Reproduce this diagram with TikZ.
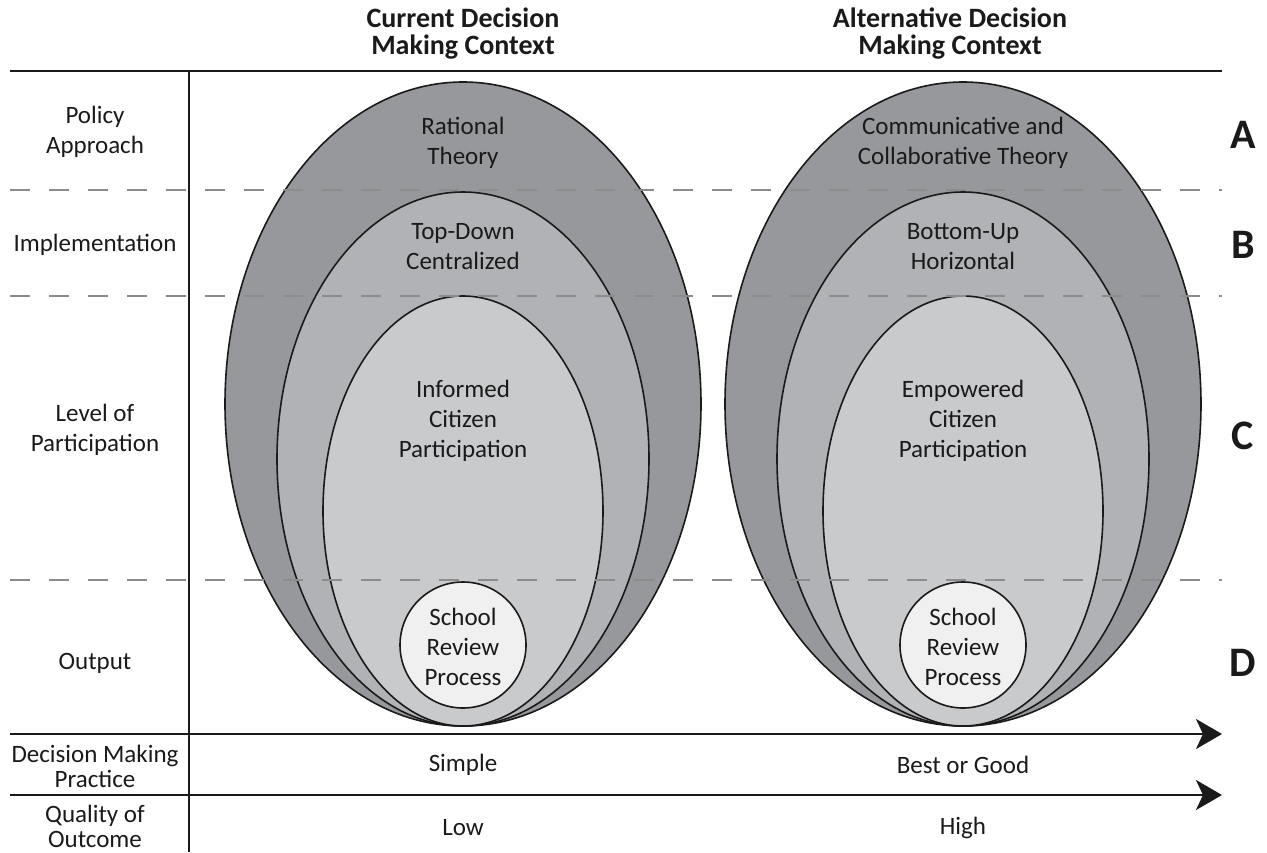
\documentclass[tikz,border=0pt]{standalone}
\usepackage{fontspec}
\setmainfont{Carlito}
\usetikzlibrary{arrows.meta}

\definecolor{ringA}{HTML}{97989B}
\definecolor{ringB}{HTML}{B1B2B5}
\definecolor{ringC}{HTML}{C9CACC}
\definecolor{ringD}{HTML}{F0F0F1}
\definecolor{dashgray}{HTML}{8C8C8C}
\definecolor{ink}{HTML}{1A1A1A}

\tikzset{
  rule/.style={line width=2.6pt, draw=ink},
  rowsep/.style={line width=2pt, draw=dashgray, dash pattern=on 20pt off 19pt},
  arrowline/.style={line width=2.6pt, draw=ink, -{Stealth[length=26pt, width=30pt, inset=7pt]}},
  ring/.style={line width=1.6pt, draw=ink},
  txt/.style={align=center, text=ink, font=\fontsize{25}{30}\selectfont, inner sep=0pt},
  tight/.style={font=\fontsize{25}{25}\selectfont},
  head/.style={align=center, text=ink, font=\fontsize{28}{27}\selectfont\bfseries, inner sep=0pt},
  letter/.style={text=ink, font=\fontsize{42}{42}\selectfont\bfseries, inner sep=0pt},
}

\begin{document}
\begin{tikzpicture}[x=1pt, y=-1pt]
\useasboundingbox (0,0) rectangle (1267,852);

% nested ellipses, current context
\fill[ringA] (463,404) ellipse [x radius=238, y radius=322];
\draw[ring] (463,404) ellipse [x radius=238, y radius=322];
\fill[ringB] (463,459) ellipse [x radius=186, y radius=267];
\draw[ring] (463,459) ellipse [x radius=186, y radius=267];
\fill[ringC] (463,511) ellipse [x radius=140, y radius=215];
\draw[ring] (463,511) ellipse [x radius=140, y radius=215];
\fill[ringD] (463,645) circle [radius=63];
\draw[ring] (463,645) circle [radius=63];

% nested ellipses, alternative context
\fill[ringA] (963,404) ellipse [x radius=238, y radius=322];
\draw[ring] (963,404) ellipse [x radius=238, y radius=322];
\fill[ringB] (963,459) ellipse [x radius=186, y radius=267];
\draw[ring] (963,459) ellipse [x radius=186, y radius=267];
\fill[ringC] (963,511) ellipse [x radius=140, y radius=215];
\draw[ring] (963,511) ellipse [x radius=140, y radius=215];
\fill[ringD] (963,645) circle [radius=63];
\draw[ring] (963,645) circle [radius=63];

% row separators
\coordinate (dA1) at (10,190);  \coordinate (dA2) at (1222,190);
\coordinate (dB1) at (10,296);  \coordinate (dB2) at (1222,296);
\coordinate (dC1) at (10,580);  \coordinate (dC2) at (1222,580);
\draw[rowsep] (dA1) -- (dA2);
\draw[rowsep] (dB1) -- (dB2);
\draw[rowsep] (dC1) -- (dC2);

% frame
\coordinate (top1) at (10,71);   \coordinate (top2) at (1222,71);
\coordinate (vtop) at (189,71);  \coordinate (vbot) at (189,852);
\coordinate (ar1s) at (10,734);  \coordinate (ar1e) at (1222,734);
\coordinate (ar2s) at (10,795);  \coordinate (ar2e) at (1222,795);
\draw[rule] (top1) -- (top2);
\draw[rule] (vtop) -- (vbot);
\draw[arrowline] (ar1s) -- (ar1e);
\draw[arrowline] (ar2s) -- (ar2e);

% column headings
\node[head] (hcur) at (463,34) {Current Decision\\Making Context};
\node[head] (halt) at (950,34) {Alternative Decision\\Making Context};

% row labels
\node[txt] (lpol) at (95,132) {Policy\\Approach};
\node[txt] (limp) at (95,245) {Implementation};
\node[txt] (llev) at (95,430) {Level of\\Participation};
\node[txt] (lout) at (95,663) {Output};
\node[txt, tight] (ldmp) at (95,766) {Decision Making\\Practice};
\node[txt, tight] (lqua) at (95,826) {Quality of\\Outcome};

% ring texts, current
\node[txt] (rat) at (463,143) {Rational\\Theory};
\node[txt] (tdc) at (463,247) {Top-Down\\Centralized};
\node[txt] (icp) at (463,421) {Informed\\Citizen\\Participation};
\node[txt] (srp1) at (463,647) {School\\Review\\Process};

% ring texts, alternative
\node[txt] (cct) at (963,143) {Communicative and\\Collaborative Theory};
\node[txt] (buh) at (963,247) {Bottom-Up\\Horizontal};
\node[txt] (ecp) at (963,421) {Empowered\\Citizen\\Participation};
\node[txt] (srp2) at (963,647) {School\\Review\\Process};

% scale values
\node[txt] (simple) at (463,765) {Simple};
\node[txt] (best) at (963,765) {Best or Good};
\node[txt] (low) at (463,828) {Low};
\node[txt] (high) at (963,828) {High};

% row letters
\node[letter] (la) at (1243,135) {A};
\node[letter] (lb) at (1243,245) {B};
\node[letter] (lc) at (1243,436) {C};
\node[letter] (ld) at (1243,663) {D};
\end{tikzpicture}
\end{document}
